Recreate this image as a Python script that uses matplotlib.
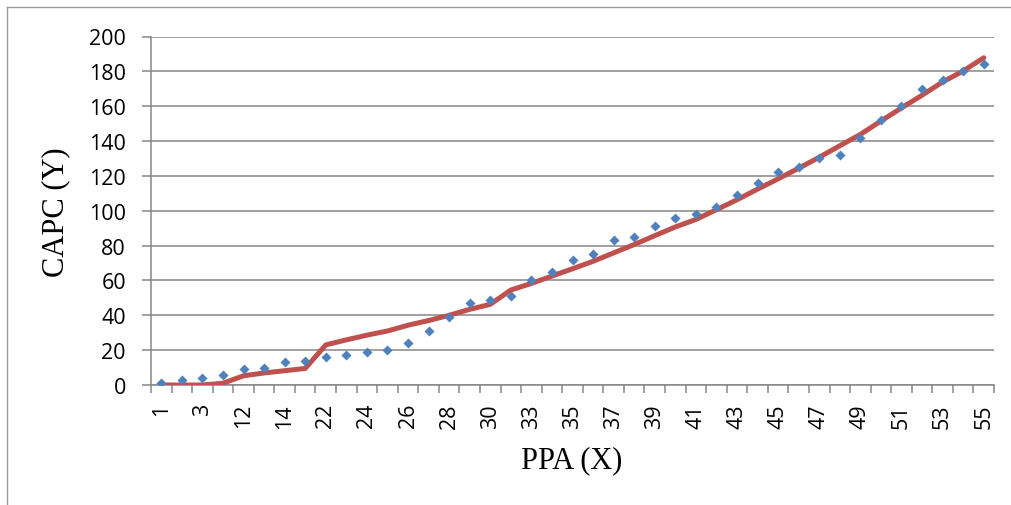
import matplotlib
matplotlib.use("Agg")
import matplotlib.pyplot as plt
from matplotlib.lines import Line2D
from matplotlib.ticker import FixedLocator

# ---- data ----
categories = ["1", "2", "3", "10", "12", "13", "14", "15", "22", "23",
              "24", "25", "26", "27", "28", "29", "30", "31", "33", "34",
              "35", "36", "37", "38", "39", "40", "41", "42", "43", "44",
              "45", "46", "47", "48", "49", "50", "51", "52", "53", "54", "55"]
observed = [1, 3, 4, 6, 9, 10, 13, 14, 16, 17,
            19, 20, 24, 31, 39, 47, 49, 51, 60, 65,
            72, 75, 83, 85, 91, 96, 98, 102, 109, 116,
            122, 125, 130, 132, 142, 152, 160, 170, 175, 180, 184]
fitted = [0, 0, 0, 1, 5.3, 6.9, 8.2, 9.5, 23, 25.9,
          28.6, 31, 34.3, 37, 40, 43.4, 46.3, 54.5, 58.3, 62.5,
          66.7, 71, 75.8, 80.6, 85.7, 90.7, 95, 100.6, 106.3, 112.4,
          118.3, 124.4, 130.7, 137.3, 143.8, 151.5, 159, 166.3, 173.9, 180.2, 187.8]
y_ticks = [0, 20, 40, 60, 80, 100, 120, 140, 160, 180, 200]
x_label = "PPA (X)"
y_label = "CAPC (Y)"

W, H = 1012, 506
fig = plt.figure(figsize=(W / 100, H / 100), dpi=100)
L, R, T, B = 151, 994, 37.5, 386
ax = fig.add_axes([L / W, 1 - B / H, (R - L) / W, (B - T) / H])

xs = list(range(len(categories)))
grid_c = "#868686"

ax.plot(xs, fitted, color="#C0504D", lw=3.6, solid_capstyle="round",
        solid_joinstyle="round", zorder=3)
ax.plot(xs, observed, linestyle="none", marker="D", ms=4.9,
        color="#4F81BD", mec="none", zorder=4)

ax.set_xlim(-0.5, len(categories) - 0.5)
ax.set_ylim(y_ticks[0], y_ticks[-1])

ax.set_yticks(y_ticks)
ax.yaxis.grid(True, color=grid_c, lw=1.1)
ax.set_axisbelow(True)

shown = xs[::2]
ax.set_xticks(shown)
ax.set_xticklabels([categories[i] for i in shown], rotation=90,
                   family="Open Sans", fontsize=15.5)
ax.xaxis.set_minor_locator(FixedLocator([i - 0.5 for i in range(len(categories) + 1)]))
ax.tick_params(axis="x", which="major", length=0, pad=13)
ax.tick_params(axis="x", which="minor", length=5.5, width=1.1, color=grid_c)
ax.tick_params(axis="y", length=6.5, width=1.1, color=grid_c, pad=11.5)
for lbl in ax.get_yticklabels():
    lbl.set_family("Open Sans")
    lbl.set_fontsize(15.5)

for s in ["top", "right"]:
    ax.spines[s].set_visible(False)
for s in ["left", "bottom"]:
    ax.spines[s].set_color(grid_c)
    ax.spines[s].set_linewidth(1.1)

fig.text(56 / W, 1 - 212 / H, y_label, rotation=90, ha="center", va="center",
         family="Liberation Serif", fontsize=22)
fig.text(572 / W, 1 - 461 / H, x_label, ha="center", va="center",
         family="Liberation Serif", fontsize=22)

frame_c = "#9a9a9a"
fig.add_artist(Line2D([7 / W, 1.0], [1 - 8 / H, 1 - 8 / H], color=frame_c,
                      lw=1.0, transform=fig.transFigure))
fig.add_artist(Line2D([7 / W, 7 / W], [0, 1 - 8 / H], color=frame_c,
                      lw=1.0, transform=fig.transFigure))

fig.savefig("out.png", dpi=100)
